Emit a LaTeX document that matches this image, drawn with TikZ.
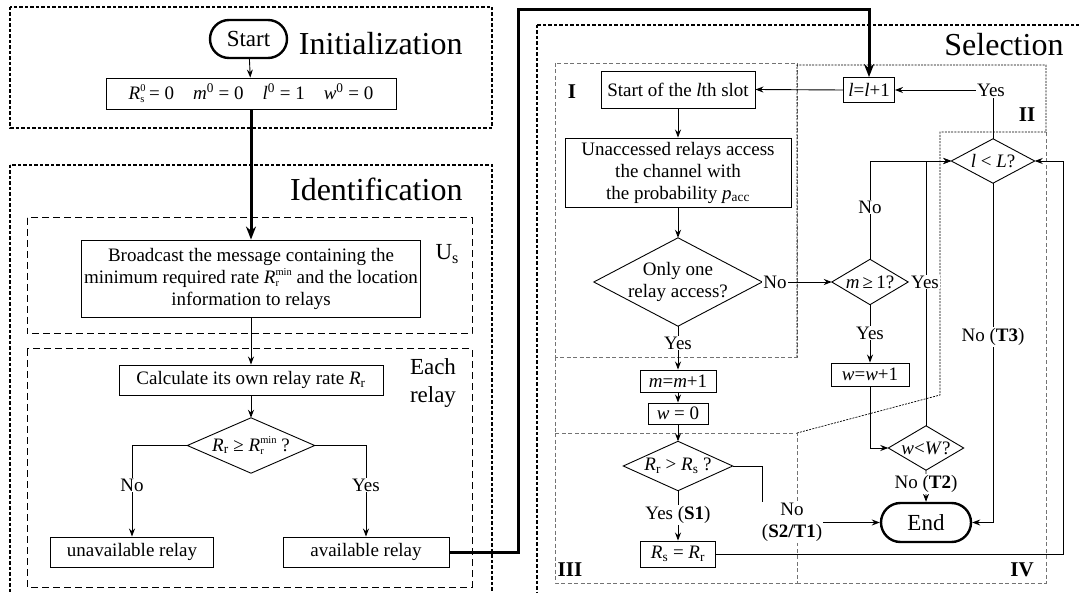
\documentclass[tikz,border=0pt]{standalone}
\usepackage{fontspec}
\setmainfont{Liberation Serif}
\usetikzlibrary{arrows.meta,shapes.misc}
% stacked super/subscripts for symbols such as R_s^0 and R_r^min
\newcommand\supsub[2]{{\fontsize{10.5}{11}\selectfont
  \rlap{\raisebox{7.8pt}{#1}}\raisebox{-3.6pt}{#2}}}
\newcommand\subsup[2]{{\fontsize{10.5}{11}\selectfont
  \rlap{\raisebox{-3.6pt}{#1}}\raisebox{7.8pt}{#2}}}
\newcommand\varR[1]{\textit{R}\textsubscript{#1}}

\begin{document}
\begin{tikzpicture}[x=1pt,y=-1pt,
  every node/.style={font=\fontsize{19}{22}\selectfont},
  pbox/.style={draw, line width=0.9pt, inner sep=0pt, align=center, fill=white},
  dia/.style={inner sep=0pt, align=center},
  term/.style={draw, rounded rectangle, line width=2.4pt, inner sep=0pt, fill=white,
               font=\fontsize{23}{26}\selectfont},
  flow/.style={line width=0.9pt, -{Stealth[length=8pt,width=6pt]}},
  plain/.style={line width=0.9pt},
  bold flow/.style={line width=3pt, -{Stealth[length=13pt,width=10pt]}},
  lab/.style={fill=white, inner sep=1pt},
  phase/.style={line width=2.4pt, dash pattern=on 3.5pt off 2pt},
  unitbox/.style={line width=1pt, dash pattern=on 7pt off 4pt},
  part/.style={draw=black!55, line width=0.8pt, dash pattern=on 4pt off 2.5pt},
  partII/.style={line width=0.7pt, dash pattern=on 2pt off 1.2pt},
  heading/.style={font=\fontsize{32}{36}\selectfont},
  side/.style={font=\fontsize{23}{28}\selectfont, align=center},
  tag/.style={font=\fontsize{21}{24}\selectfont\bfseries}]

\useasboundingbox (0,0) rectangle (1079,593);
\clip (0,0) rectangle (1079,593);

% ---------- phase frames ----------
\draw[phase] (10,7) rectangle (492,128);
\draw[phase] (10,165) rectangle (492,640);
\draw[unitbox] (27,218) rectangle (472,334);
\draw[unitbox] (27,349) rectangle (472,587);
\draw[phase] (537,25) rectangle (1120,640);

% ---------- parts I-IV of the selection phase ----------
\draw[part] (555,63) rectangle (797,357);
\draw[part] (555,357) -- (555,433);
\draw[part] (555,433) rectangle (797,583);
\draw[part] (797,583) -- (1046,583) -- (1046,132);
\draw[partII] (797,357) -- (797,65) -- (1046,65) -- (1046,132) -- (940,132)
              -- (940,395) -- (797,433);

% ---------- headings ----------
\node[heading, anchor=base east] (hInit) at (466,55) {Initialization};
\node[heading, anchor=base east] (hIdent) at (466,201) {Identification};
\node[heading, anchor=base east] (hSel) at (1067,56) {Selection};
\node[side, anchor=base west] (us) at (432,260) {U\textsubscript{s}};
\node[side] (each) at (433,383) {Each\\relay};
\node[tag] (tI) at (572,92) {I};
\node[tag] (tII) at (1027,115) {II};
\node[tag] (tIII) at (570,570) {III};
\node[tag] (tIV) at (1022,570) {IV};

% ---------- initialization and identification ----------
\node[term, minimum width=77pt, minimum height=38pt] (start) at (248.5,39) {Start};
\node[pbox, minimum width=290pt, minimum height=31pt] (init) at (251,93.5)
  {\textit{R}\supsub{0}{s} = 0\quad \textit{m}\textsuperscript{0} = 0\quad
   \textit{l}\textsuperscript{0} = 1\quad \textit{w}\textsuperscript{0} = 0};
\node[pbox, minimum width=339pt, minimum height=77pt] (bcast) at (251,278.5)
  {Broadcast the message containing the\\
   minimum required rate \textit{R}\subsup{r}{min} and the location\\
   information to relays};
\node[pbox, minimum width=264pt, minimum height=30pt] (calc) at (251,380)
  {Calculate its own relay rate~\varR{r}};
\node[dia, minimum width=127pt, minimum height=55pt] (d1) at (251,445.5)
  {\varR{r} ≥ \textit{R}\subsup{r}{min} ?};
\node[pbox, minimum width=163pt, minimum height=30pt] (unav) at (132,552) {unavailable relay};
\node[pbox, minimum width=166pt, minimum height=30pt] (avail) at (366,552) {available relay};

% ---------- selection ----------
\node[pbox, minimum width=154pt, minimum height=37pt] (slot) at (678,89.5)
  {Start of the \textit{l}th slot};
\node[pbox, minimum width=226pt, minimum height=69pt] (unacc) at (678,172.5)
  {Unaccessed relays access\\the channel with\\the probability \textit{p}\textsubscript{acc}};
\node[dia, minimum width=168pt, minimum height=88pt] (one) at (678,282)
  {Only one\\relay access?};
\node[pbox, minimum width=76pt, minimum height=22pt] (mm1) at (678,381)
  {\textit{m}=\textit{m}+1};
\node[pbox, minimum width=60pt, minimum height=21pt] (w0) at (678,413.5) {\textit{w} = 0};
\node[dia, minimum width=109pt, minimum height=49pt] (rr) at (678,466) {\varR{r} > \varR{s} ?};
\node[pbox, minimum width=75pt, minimum height=26pt] (rsr) at (678,554) {\varR{s} = \varR{r}};
\node[pbox, minimum width=51pt, minimum height=25pt] (ll1) at (869,90)
  {\textit{l}=\textit{l}+1};
\node[dia, minimum width=83pt, minimum height=44pt] (lL) at (993,161) {\textit{l} < \textit{L}?};
\node[dia, minimum width=76pt, minimum height=45pt] (m1) at (870,282) {\textit{m}\,≥\,1?};
\node[pbox, minimum width=78pt, minimum height=23pt] (ww1) at (870,374.5)
  {\textit{w}=\textit{w}+1};
\node[dia, minimum width=75pt, minimum height=44pt] (wW) at (926,448) {\textit{w}<\textit{W}?};
\node[term, minimum width=90pt, minimum height=39pt] (end) at (926,522.5) {End};

% decision outlines
\foreach \n in {d1,one,rr,lL,m1,wW}
  \draw[plain] (\n.north) -- (\n.east) -- (\n.south) -- (\n.west) -- cycle;

% ---------- bend points ----------
\coordinate (bendA) at (518,10);
\coordinate (s2c) at (762,522.5);
\coordinate (cR) at (1063,161);

% ---------- connectors ----------
\draw[flow] (start) -- (init);
\draw[bold flow] (init.south) -- (bcast.north);
\draw[flow] (bcast) -- (calc);
\draw[flow] (calc) -- (d1);
\draw[flow] (d1.west) -| (unav.north);
\draw[flow] (d1.east) -| (avail.north);
\draw[bold flow] (avail.east) -| (bendA) -| (ll1.north);

\node[lab] (yesTop) at (991,90) {Yes};
\draw[flow] (ll1.west) -- (slot.east);
\draw[flow] (yesTop.west) -- (ll1.east);
\draw[plain] (lL.north) -- (lL.north |- yesTop.south);
\draw[flow] (slot) -- (unacc);
\draw[flow] (unacc) -- (one);
\draw[flow] (one.east) -- (m1.west);
\draw[flow] (one) -- (mm1);
\draw[flow] (mm1) -- (w0);
\draw[flow] (w0) -- (rr);
\draw[flow] (rr) -- (rsr);
\draw[plain] (rr.east) -| (s2c);
\draw[flow] (m1.north) |- (lL.west);
\draw[flow] (m1) -- (ww1);
\draw[flow] (ww1.south) |- (wW.west);
\draw[flow] (wW.north) |- (lL.west);
\draw[flow] (wW) -- (end);
\draw[flow] (lL.south) |- (end.east);
\draw[flow] (rsr.east) -| (cR) -- (lL.east);

% ---------- branch labels ----------
\node[lab] (noL) at (132,485) {No};
\node[lab] (yesR) at (366,485) {Yes};
\node[lab, anchor=west] (noOne) at (one.east) {No};
\node[lab] (yesOne) at (678,343) {Yes};
\node[lab] (yesS1) at (678,515) {Yes (\textbf{S1})};
\node[lab, align=center] (noS2) at (792,522.5) {No\\(\textbf{S2/T1})};
\draw[flow] (noS2.east) -- (end.west);
\node[lab] (noM1) at (870,207) {No};
\node[lab] (yesW) at (925,282) {Yes};
\node[lab] (yesM1) at (870,333) {Yes};
\node[lab] (noT3) at (993,337) {No (\textbf{T3})};
\node[lab] (noT2) at (926,484) {No (\textbf{T2})};

\end{tikzpicture}
\end{document}
